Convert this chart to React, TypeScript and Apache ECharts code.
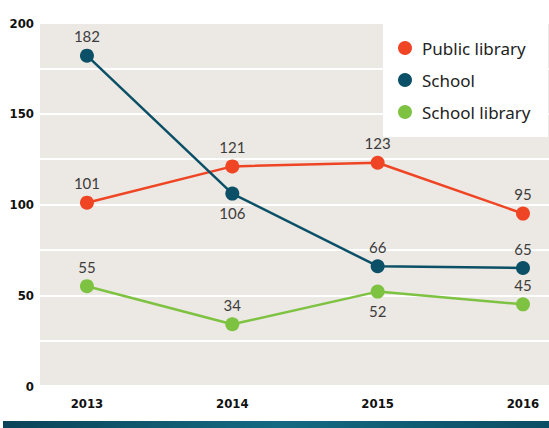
import React, { useEffect, useRef } from "react";
import * as echarts from "echarts";

const years = [2013, 2014, 2015, 2016];
const publicLibrary = [101, 121, 123, 95];
const school = [182, 106, 66, 65];
const schoolLibrary = [55, 34, 52, 45];
const publicLabelPos = ["top", "top", "top", "top"];
const schoolLabelPos = ["top", "bottom", "top", "top"];
const schoolLibraryLabelPos = ["top", "top", "bottom", "top"];

const labelFont = "Lato, 'Noto Sans', sans-serif";

function makeSeries(name: string, values: number[], pos: string[], color: string) {
  return {
    name,
    type: "line",
    symbol: "circle",
    symbolSize: 14,
    lineStyle: { color, width: 2.5 },
    itemStyle: { color },
    z: 5,
    data: values.map((v, i) => ({
      value: [years[i], v],
      label: {
        show: true,
        position: pos[i],
        distance: 5,
        formatter: String(v),
        fontFamily: labelFont,
        fontSize: 15,
        color: "#3c3c3c",
      },
    })),
  };
}

export default function App() {
  const ref = useRef<HTMLDivElement>(null);
  useEffect(() => {
    document.body.style.margin = "0";
    const chart = echarts.init(ref.current!, undefined, { renderer: "svg" });
    chart.setOption({
      animation: false,
      backgroundColor: "#ffffff",
      grid: {
        left: 40,
        right: 0,
        top: 23,
        bottom: 42,
        show: true,
        backgroundColor: "#ece8e3",
        borderWidth: 0,
      },
      xAxis: {
        type: "value",
        min: 2012.677,
        max: 2016.179,
        axisLine: { show: false },
        axisTick: { show: false },
        splitLine: { show: false },
        axisLabel: {
          customValues: years,
          formatter: (v: number) => String(Math.round(v)),
          fontFamily: "'DejaVu Sans Condensed', 'DejaVu Sans', sans-serif",
          fontWeight: "bold",
          fontSize: 13,
          color: "#111",
          margin: 11,
        },
      },
      yAxis: {
        type: "value",
        min: 0,
        max: 200,
        interval: 25,
        axisLine: { show: false },
        axisTick: { show: false },
        splitLine: { show: true, lineStyle: { color: "#ffffff", width: 2 } },
        axisLabel: {
          formatter: (v: number) => (v % 50 === 0 ? String(v) : ""),
          fontFamily: "'DejaVu Sans Condensed', 'DejaVu Sans', sans-serif",
          fontWeight: "bold",
          fontSize: 13,
          color: "#111",
          margin: 6,
        },
      },
      legend: {
        orient: "vertical",
        left: 398,
        top: 38,
        padding: 0,
        itemWidth: 14,
        itemHeight: 14,
        itemGap: 12,
        icon: "circle",
        z: 10,
        textStyle: {
          fontFamily: "'Noto Sans', sans-serif",
          fontSize: 17,
          color: "#222",
          lineHeight: 20,
          padding: [0, 0, 0, 5],
        },
        data: ["Public library", "School", "School library"],
      },
      graphic: [
        {
          type: "rect",
          z: 8,
          shape: { x: 383, y: 23, width: 165, height: 114 },
          style: { fill: "#ffffff" },
        },
        {
          type: "rect",
          z: 8,
          shape: { x: 3, y: 421, width: 546, height: 7 },
          style: {
            fill: new echarts.graphic.LinearGradient(0, 0, 1, 0, [
              { offset: 0, color: "#0a4358" },
              { offset: 0.5, color: "#146a82" },
              { offset: 1, color: "#0b4d64" },
            ]),
          },
        },
      ],
      series: [
        makeSeries("Public library", publicLibrary, publicLabelPos, "#ef4524"),
        makeSeries("School", school, schoolLabelPos, "#0b5066"),
        makeSeries("School library", schoolLibrary, schoolLibraryLabelPos, "#7ec242"),
      ],
    });
    return () => chart.dispose();
  }, []);
  return <div ref={ref} style={{ width: 549, height: 428 }} />;
}
